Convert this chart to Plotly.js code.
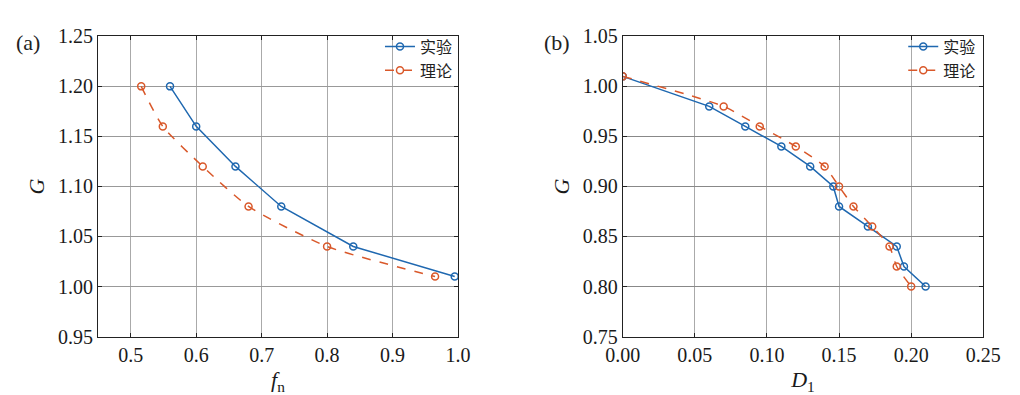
<!DOCTYPE html>
<html><head><meta charset="utf-8">
<script src="https://cdn.plot.ly/plotly-3.0.1.min.js"></script>
<style>body{margin:0;background:#fff}#c{width:1020px;height:395px}</style>
</head><body><div id="c"></div>
<script>
// Panel (a)
const aExpX = [0.56, 0.60, 0.66, 0.73, 0.84, 0.995];
const aExpY = [1.20, 1.16, 1.12, 1.08, 1.04, 1.01];
const aThX  = [0.516, 0.549, 0.61, 0.68, 0.80, 0.965];
const aThY  = [1.20, 1.16, 1.12, 1.08, 1.04, 1.01];
// Panel (b)
const bExpX = [0.0, 0.060, 0.085, 0.110, 0.130, 0.146, 0.150, 0.170, 0.190, 0.195, 0.210];
const bExpY = [1.01, 0.98, 0.96, 0.94, 0.92, 0.90, 0.88, 0.86, 0.84, 0.82, 0.80];
const bThX  = [0.0, 0.070, 0.095, 0.120, 0.140, 0.150, 0.160, 0.173, 0.185, 0.190, 0.200];
const bThY  = [1.01, 0.98, 0.96, 0.94, 0.92, 0.90, 0.88, 0.86, 0.84, 0.82, 0.80];
const seriesNames = ['实验', '理论'];

const blue = '#1f68b0', orange = '#d9582a';
const font = 'Times New Roman';
const lfont = "Times New Roman, Noto Sans CJK SC";
function exp(x, y, xa, ya, lg){
  return {x: x, y: y, xaxis: xa, yaxis: ya, legend: lg, name: seriesNames[0], type: 'scatter', mode: 'lines+markers',
    line: {color: blue, width: 1.5}, marker: {symbol: 'circle-open', size: 7, color: blue, line: {width: 1.5}}};
}
function th(x, y, xa, ya, lg){
  return {x: x, y: y, xaxis: xa, yaxis: ya, legend: lg, name: seriesNames[1], type: 'scatter', mode: 'lines+markers',
    line: {color: orange, width: 1.5, dash: 'dash', shape: 'spline', smoothing: 0.6},
    marker: {symbol: 'circle-open', size: 7, color: orange, line: {width: 1.5}}};
}
const data = [
  exp(aExpX, aExpY, 'x', 'y', 'legend'), th(aThX, aThY, 'x', 'y', 'legend'),
  exp(bExpX, bExpY, 'x2', 'y2', 'legend2'), th(bThX, bThY, 'x2', 'y2', 'legend2')
];
function axis(extra){
  const base = {showline: true, mirror: 'ticks', linecolor: '#222', linewidth: 1, ticks: 'inside', ticklen: 4,
    tickcolor: '#222', showgrid: true, gridcolor: '#aaaaaa', gridwidth: 1, zeroline: false,
    tickfont: {family: font, size: 20, color: '#1a1a1a'}};
  return Object.assign(base, extra);
}
const ydom = [0.148, 0.908];
const layout = {
  width: 1020, height: 395, margin: {l: 0, r: 0, t: 0, b: 0, pad: 0},
  paper_bgcolor: '#fff', plot_bgcolor: '#fff', font: {family: font, size: 20, color: '#1a1a1a'},
  xaxis: axis({domain: [0.0961, 0.449], range: [0.45, 1.0], dtick: 0.1, tickformat: '.1f', anchor: 'y',
    title: {text: '<i>f</i><sub>n</sub>', font: {family: font, size: 22}}}),
  yaxis: axis({domain: ydom, range: [0.95, 1.25], dtick: 0.05, tickformat: '.2f', anchor: 'x',
    gridcolor: '#999999', title: {text: '<i>G</i>', font: {family: font, size: 22}}}),
  xaxis2: axis({domain: [0.6105, 0.964], range: [0, 0.25], dtick: 0.05, tickformat: '.2f', anchor: 'y2',
    title: {text: '<i>D</i><sub>1</sub>', font: {family: font, size: 22}}}),
  yaxis2: axis({domain: ydom, range: [0.75, 1.05], dtick: 0.05, tickformat: '.2f', anchor: 'x2',
    gridcolor: '#888888', title: {text: '<i>G</i>', font: {family: font, size: 22}}}),
  legend: {x: 0.449, xanchor: 'right', y: 0.925, yanchor: 'top', bgcolor: 'rgba(255,255,255,0)',
    font: {family: lfont, size: 16, color: '#222'}, tracegroupgap: 0, itemwidth: 30, borderwidth: 0},
  legend2: {x: 0.962, xanchor: 'right', y: 0.925, yanchor: 'top', bgcolor: 'rgba(255,255,255,0)',
    font: {family: lfont, size: 16, color: '#222'}, tracegroupgap: 0, itemwidth: 30, borderwidth: 0},
  showlegend: true,
  annotations: [
    {text: '(a)', xref: 'paper', yref: 'paper', x: 14/1020, y: 1 - 42/395, xanchor: 'left', yanchor: 'middle',
      showarrow: false, font: {family: font, size: 22, color: '#222'}},
    {text: '(b)', xref: 'paper', yref: 'paper', x: 542/1020, y: 1 - 42/395, xanchor: 'left', yanchor: 'middle',
      showarrow: false, font: {family: font, size: 22, color: '#222'}}
  ]
};
Plotly.newPlot('c', data, layout, {displayModeBar: false, staticPlot: true});
</script></body></html>
